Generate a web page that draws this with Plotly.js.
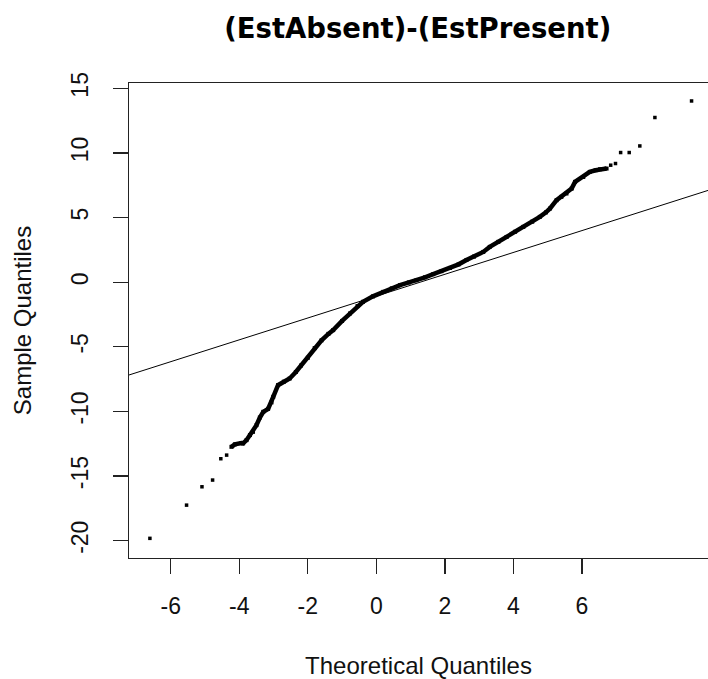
<!DOCTYPE html>
<html>
<head>
<meta charset="utf-8">
<script src="https://cdn.plot.ly/plotly-3.0.1.min.js"></script>
<style>html,body{margin:0;padding:0;background:#fff;}#chart{width:708px;height:679px;}</style>
</head>
<body>
<div id="chart"></div>
<script>
// Sparse lower-tail points
const lowTailX = [-6.61, -5.54, -5.09, -4.78, -4.54, -4.37];
const lowTailY = [-19.82, -17.25, -15.83, -15.31, -13.66, -13.38];

// Dense body of the Q-Q curve
const bodyX = [-4.23, -4.13, -3.94, -3.89, -3.79, -3.69, -3.60, -3.50, -3.40, -3.30, -3.16, -3.06, -3.01, -2.87, -2.70, -2.53, -2.35, -2.20, -2.00, -1.80, -1.60, -1.40, -1.26, -1.00, -0.77, -0.55, -0.39, -0.10, 0.20, 0.45, 0.69, 0.95, 1.17, 1.42, 1.66, 1.90, 2.15, 2.40, 2.63, 2.85, 3.12, 3.31, 3.56, 3.80, 4.05, 4.29, 4.55, 4.77, 4.95, 5.07, 5.26, 5.40, 5.55, 5.70, 5.80, 6.04, 6.23, 6.40, 6.53, 6.72];
const bodyY = [-12.74, -12.55, -12.45, -12.47, -12.22, -11.83, -11.58, -11.06, -10.47, -10.03, -9.80, -9.30, -8.87, -7.97, -7.70, -7.45, -6.95, -6.45, -5.85, -5.10, -4.50, -4.00, -3.71, -3.00, -2.42, -1.85, -1.52, -1.10, -0.75, -0.48, -0.23, -0.02, 0.15, 0.38, 0.62, 0.85, 1.10, 1.38, 1.72, 1.98, 2.34, 2.73, 3.12, 3.50, 3.90, 4.28, 4.68, 5.05, 5.40, 5.70, 6.34, 6.60, 6.86, 7.24, 7.76, 8.14, 8.53, 8.66, 8.74, 8.79];

// Sparse upper-tail points
const highTailX = [6.84, 6.98, 7.13, 7.38, 7.69, 8.13, 9.20];
const highTailY = [9.05, 9.18, 10.03, 10.03, 10.54, 12.74, 14.02];

// Reference (qqline) parameters
const lineIntercept = -1.08;
const lineSlope = 0.845;

// Axis ticks
const xTicks = [-6, -4, -2, 0, 2, 4, 6];
const yTicks = [-20, -15, -10, -5, 0, 5, 10, 15];

const xRange = [-7.22, 9.68];
const yRange = [-21.34, 15.41];

const font = "Liberation Sans, Arial, sans-serif";
const titleFont = "DejaVu Sans, Verdana, sans-serif";
const black = '#000';

const traces = [
  {
    x: xRange, y: xRange.map(v => lineIntercept + lineSlope * v),
    type: 'scatter', mode: 'lines', line: {color: black, width: 1}, hoverinfo: 'skip'
  },
  {
    x: bodyX, y: bodyY, type: 'scatter', mode: 'lines+markers',
    line: {color: black, width: 4.5},
    marker: {color: black, size: 4, symbol: 'square'}
  },
  {
    x: lowTailX.concat(highTailX), y: lowTailY.concat(highTailY),
    type: 'scatter', mode: 'markers',
    marker: {color: black, size: 3.5, symbol: 'square'}
  }
];

const layout = {
  width: 708, height: 679,
  margin: {l: 129, r: 0, t: 83, b: 121},
  paper_bgcolor: '#fff', plot_bgcolor: '#fff',
  showlegend: false,
  font: {family: font, color: black},
  title: {
    text: '<b>(EstAbsent)-(EstPresent)</b>',
    font: {family: titleFont, size: 27.5, color: black},
    x: 0.59, xanchor: 'center', xref: 'container',
    y: 0.958, yanchor: 'middle', yref: 'container'
  },
  xaxis: {
    range: xRange, tickvals: xTicks, ticktext: xTicks.map(String),
    showgrid: false, zeroline: false,
    showline: true, linecolor: '#222', linewidth: 1.3, mirror: true,
    ticks: 'outside', ticklen: 15, tickwidth: 1.3, tickcolor: '#222',
    tickfont: {family: font, size: 23, color: '#111'},
    ticklabelstandoff: 12,
    title: {text: 'Theoretical Quantiles', font: {family: font, size: 24, color: '#111'}, standoff: 40}
  },
  yaxis: {
    range: yRange, tickvals: yTicks, ticktext: yTicks.map(String),
    showgrid: false, zeroline: false,
    showline: true, linecolor: '#222', linewidth: 1.3, mirror: false,
    ticks: 'outside', ticklen: 15, tickwidth: 1.3, tickcolor: '#222',
    tickangle: -90,
    tickfont: {family: font, size: 23, color: '#111'},
    ticklabelstandoff: 16,
    title: {text: 'Sample Quantiles', font: {family: font, size: 24, color: '#111'}, standoff: 28}
  }
};

Plotly.newPlot('chart', traces, layout, {staticPlot: true, displayModeBar: false});
</script>
</body>
</html>
